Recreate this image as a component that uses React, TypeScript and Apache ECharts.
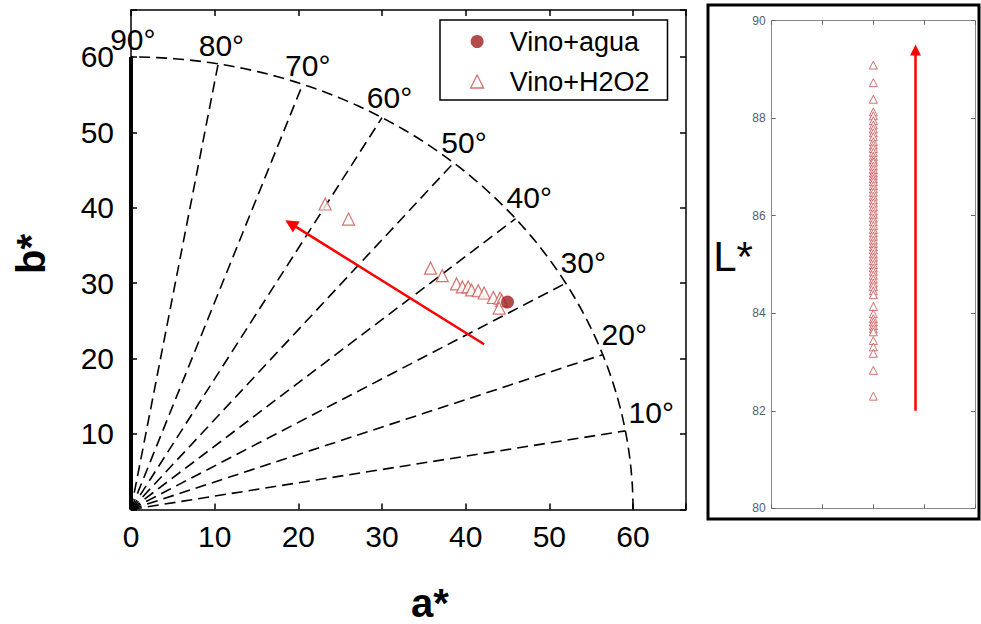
import React, { useEffect, useRef } from 'react';
import * as echarts from 'echarts';

const FONT = 'Liberation Sans, Arial, sans-serif';

// a*, b* of the untreated wine (Vino+agua)
const aguaPoints: number[][] = [[45.0, 27.5]];
// a*, b* of the wine with H2O2
const h2o2Points: number[][] = [
  [23.2, 40.5], [26.0, 38.5], [35.8, 32.0], [37.2, 31.0], [38.9, 29.9],
  [39.6, 29.5], [40.3, 29.5], [40.7, 29.1], [41.5, 29.0], [42.2, 28.7],
  [43.3, 28.1], [44.1, 28.0], [44.3, 27.7], [44.0, 26.7],
];
// hue-angle guide lines and labels
const hueAngles = [10, 20, 30, 40, 50, 60, 70, 80];
const hueLabelAngles = [10, 20, 30, 40, 50, 60, 70, 80, 90];
const chromaRadius = 60;
const abTicks = [0, 10, 20, 30, 40, 50, 60];
// L* values of wine + H2O2
const lValues = [
  89.09, 88.73, 88.39, 88.13, 88.05, 87.95, 87.86, 87.78, 87.70, 87.62,
  87.52, 87.45, 87.38, 87.30, 87.22, 87.15, 87.10, 87.02, 86.95, 86.88,
  86.82, 86.76, 86.70, 86.62, 86.55, 86.48, 86.40, 86.33, 86.26, 86.18,
  86.10, 86.03, 85.95, 85.88, 85.80, 85.72, 85.65, 85.58, 85.50, 85.43,
  85.36, 85.30, 85.22, 85.15, 85.08, 85.00, 84.93, 84.86, 84.78, 84.70,
  84.62, 84.55, 84.46, 84.38, 84.14, 83.99, 83.89, 83.82, 83.75, 83.68,
  83.62, 83.44, 83.31, 83.18, 82.83, 82.30,
];
const lX = 2;
// arrows (trend annotations)
const abArrow: number[][] = [[42.2, 21.9], [19.1, 37.9]];
const lArrow: number[][] = [[2.83, 82.0], [2.83, 89.4]];

const DASH = [11, 6];
const TRI_COLOR = '#c8504d';

export default function App() {
  const ref = useRef<HTMLDivElement>(null);
  useEffect(() => {
    if (!ref.current) return;
    const chart = echarts.init(ref.current, null, { renderer: 'svg' });
    const rad = (d: number) => (d * Math.PI) / 180;

    const radialSeries = hueAngles.map((ang) => ({
      type: 'line',
      xAxisIndex: 0,
      yAxisIndex: 0,
      silent: true,
      symbol: 'none',
      data: [[0, 0], [chromaRadius * Math.cos(rad(ang)), chromaRadius * Math.sin(rad(ang))]],
      lineStyle: { color: '#000', width: 1.6, type: DASH },
      z: 1,
    }));
    const arcPts: number[][] = [];
    for (let d = 0; d <= 90; d += 1) {
      arcPts.push([chromaRadius * Math.cos(rad(d)), chromaRadius * Math.sin(rad(d))]);
    }

    // label placement just outside the arc
    const labelData = hueLabelAngles.map((ang) => {
      const k = (90 - ang) / 80;
      const a = ang + 1.7 * k - 0.2 * (1 - k);
      const r = 62.3 + 1.2 * k;
      return {
        name: ang + '°',
        value: [r * Math.cos(rad(a)), r * Math.sin(rad(a))],
      };
    });

    const axisCommon = {
      axisLine: { show: true, onZero: false, lineStyle: { color: '#000', width: 1.5 } },
      axisTick: { show: true, inside: true, length: 6, lineStyle: { color: '#000', width: 1.5 } },
      splitLine: { show: false },
    };
    const rAxisCommon = {
      axisLine: { show: true, onZero: false, lineStyle: { color: '#8a8a8a', width: 1 } },
      axisTick: { show: true, inside: true, length: 4, lineStyle: { color: '#666', width: 1 } },
      splitLine: { show: false },
    };

    const option: any = {
      animation: false,
      backgroundColor: '#fff',
      grid: [
        { left: 131, top: 10, width: 555, height: 499.4 },
        { left: 771.7, top: 20.7, width: 203.3, height: 487.6 },
      ],
      xAxis: [
        {
          gridIndex: 0, type: 'value', min: 0, max: 66.33, interval: 10, position: 'bottom',
          ...axisCommon,
          axisLabel: {
            margin: 12, fontSize: 30, fontFamily: FONT, color: '#000',
            formatter: (v: number) => (abTicks.includes(v) ? String(v) : ''),
          },
        },
        {
          gridIndex: 0, type: 'value', min: 0, max: 66.33, interval: 10, position: 'top',
          ...axisCommon, axisLabel: { show: false },
        },
        {
          gridIndex: 1, type: 'value', min: 0, max: 4, interval: 1, position: 'bottom',
          ...rAxisCommon, axisLabel: { show: false },
        },
        {
          gridIndex: 1, type: 'value', min: 0, max: 4, interval: 1, position: 'top',
          ...rAxisCommon, axisLabel: { show: false },
        },
      ],
      yAxis: [
        {
          gridIndex: 0, type: 'value', min: 0, max: 66.23, interval: 10, position: 'left',
          ...axisCommon,
          axisLabel: {
            margin: 17, fontSize: 30, fontFamily: FONT, color: '#000',
            formatter: (v: number) => (abTicks.includes(v) && v !== 0 ? String(v) : ''),
          },
        },
        {
          gridIndex: 0, type: 'value', min: 0, max: 66.23, interval: 10, position: 'right',
          ...axisCommon, axisLabel: { show: false },
        },
        {
          gridIndex: 1, type: 'value', min: 80, max: 90, interval: 2, position: 'left',
          ...rAxisCommon,
          axisLabel: { margin: 6, fontSize: 12, fontFamily: FONT, color: '#555d6b' },
        },
        {
          gridIndex: 1, type: 'value', min: 80, max: 90, interval: 2, position: 'right',
          ...rAxisCommon, axisLabel: { show: false },
        },
      ],
      legend: {
        left: 440, top: 20, orient: 'vertical',
        padding: [8, 18, 5, 30], itemGap: 13, itemWidth: 13, itemHeight: 13,
        borderColor: '#000', borderWidth: 1.5, backgroundColor: '#fff',
        textStyle: { fontSize: 27, fontFamily: FONT, color: '#000', padding: [0, 0, 0, 21] },
        data: [
          { name: 'Vino+agua', icon: 'circle', itemStyle: { color: '#a01e1e' } },
          { name: 'Vino+H2O2', icon: 'triangle', itemStyle: { color: '#fff', borderColor: TRI_COLOR, borderWidth: 1.3 } },
        ],
      },
      graphic: [
        {
          type: 'rect', shape: { x: 708, y: 5, width: 271, height: 514 },
          style: { fill: 'none', stroke: '#000', lineWidth: 3 }, z: 0,
        },
        {
          type: 'text', x: 430, y: 603,
          style: { text: 'a*', fontSize: 40, fontWeight: 'bold', fontFamily: FONT, fill: '#000', align: 'center', verticalAlign: 'middle' },
        },
        {
          type: 'text', x: 31, y: 254, rotation: Math.PI / 2,
          style: { text: 'b*', fontSize: 40, fontWeight: 'bold', fontFamily: FONT, fill: '#000', align: 'center', verticalAlign: 'middle' },
        },
        {
          type: 'text', x: 733, y: 256,
          style: { text: 'L*', fontSize: 42, fontFamily: FONT, fill: '#000', align: 'center', verticalAlign: 'middle' },
        },
      ],
      series: [
        ...radialSeries,
        {
          type: 'line', xAxisIndex: 0, yAxisIndex: 0, silent: true, symbol: 'none',
          data: arcPts, lineStyle: { color: '#000', width: 1.6, type: DASH }, z: 1,
        },
        {
          type: 'line', xAxisIndex: 0, yAxisIndex: 0, silent: true, symbol: 'none',
          data: [[0, 0], [0, chromaRadius]], lineStyle: { color: '#000', width: 4 }, z: 2,
        },
        {
          type: 'scatter', xAxisIndex: 0, yAxisIndex: 0, silent: true, symbolSize: 0,
          itemStyle: { color: '#000' },
          data: labelData,
          label: {
            show: true, position: 'inside', formatter: '{b}',
            fontSize: 30, fontFamily: FONT, color: '#000', opacity: 1,
          },
          z: 3,
        },
        {
          type: 'line', xAxisIndex: 0, yAxisIndex: 0, silent: true, symbol: 'none',
          data: abArrow, lineStyle: { opacity: 0 },
          markLine: {
            silent: true, symbol: ['none', 'triangle'], symbolSize: 13,
            label: { show: false },
            lineStyle: { color: '#ff0000', width: 2.5, type: 'solid' },
            data: [[{ coord: abArrow[0] }, { coord: abArrow[1] }]],
          },
          z: 4,
        },
        {
          name: 'Vino+H2O2', type: 'scatter', xAxisIndex: 0, yAxisIndex: 0,
          symbol: 'triangle', symbolSize: 12,
          itemStyle: { color: '#fff', borderColor: TRI_COLOR, borderWidth: 1.2 },
          data: h2o2Points, z: 5,
        },
        {
          name: 'Vino+agua', type: 'scatter', xAxisIndex: 0, yAxisIndex: 0,
          symbol: 'circle', symbolSize: 13,
          itemStyle: { color: '#a01e1e' },
          data: aguaPoints, z: 6,
        },
        {
          type: 'line', xAxisIndex: 2, yAxisIndex: 2, silent: true, symbol: 'none',
          data: lArrow, lineStyle: { opacity: 0 },
          markLine: {
            silent: true, symbol: ['none', 'triangle'], symbolSize: 11,
            label: { show: false },
            lineStyle: { color: '#ff0000', width: 2.5, type: 'solid' },
            data: [[{ coord: lArrow[0] }, { coord: lArrow[1] }]],
          },
        },
        {
          name: 'L* Vino+H2O2', type: 'scatter', xAxisIndex: 2, yAxisIndex: 2,
          symbol: 'triangle', symbolSize: 8,
          itemStyle: { color: '#fff', borderColor: TRI_COLOR, borderWidth: 1 },
          data: lValues.map((v) => [lX, v]),
        },
      ],
    };
    chart.setOption(option);
    return () => chart.dispose();
  }, []);
  return (
    <div
      ref={ref}
      style={{ position: 'fixed', left: 0, top: 0, width: 981, height: 624, background: '#fff' }}
    />
  );
}
